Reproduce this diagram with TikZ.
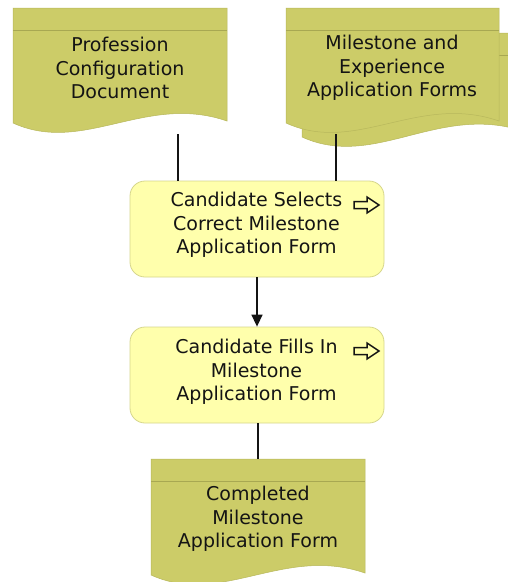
\documentclass[tikz,border=0pt]{standalone}
\usepackage{fontspec}
\setmainfont{DejaVu Sans}
\usetikzlibrary{arrows.meta,calc}

\definecolor{docfill}{RGB}{204,204,104}
\definecolor{docedge}{RGB}{184,184,92}
\definecolor{docrule}{RGB}{168,168,82}
\definecolor{procfill}{RGB}{255,255,172}
\definecolor{procedge}{RGB}{214,214,140}
\definecolor{ink}{RGB}{20,20,20}

% document symbol with a wavy lower edge:
% #1 left x, #2 top y, #3 right x, #4 bottom-left y, #5 bottom-right y, #6 divider y
\newcommand{\wavedoc}[6]{%
  \pgfmathsetmacro\wdw{#3-#1}%
  \pgfmathsetmacro\cxa{#1+0.33*\wdw}%
  \pgfmathsetmacro\cxb{#1+0.62*\wdw}%
  \pgfmathsetmacro\cya{#4+32}%
  \pgfmathsetmacro\cyb{#4-30}%
  \filldraw[fill=docfill,draw=docedge,line width=0.5pt]
    (#1,#2) -- (#3,#2) -- (#3,#5)
    .. controls (\cxb,\cyb) and (\cxa,\cya) .. (#1,#4) -- cycle;
  \draw[docrule,line width=0.6pt] (#1,#6) -- (#3,#6);
}

% hollow "continues" arrow inside a process box, centred at (#1,#2)
\newcommand{\flowmark}[2]{%
  \draw[ink,line width=1.5pt,line join=miter,shift={(#1,#2)}]
    (-13,-3.5) -- (0,-3.5) -- (0,-8) -- (12,0) -- (0,8) -- (0,3.5) -- (-13,3.5) -- cycle;
}

\tikzset{
  proc/.style={draw=procedge,fill=procfill,line width=0.8pt,rounded corners=15pt,
    minimum width=254pt,minimum height=96pt,inner sep=0pt},
  lbl/.style={align=center,inner sep=0pt,text=ink,
    font=\fontsize{19pt}{23.5pt}\selectfont},
  conn/.style={draw=ink,line width=1.5pt},
  flow/.style={conn,-{Triangle[length=12pt,width=11pt]}}
}

\begin{document}
\begin{tikzpicture}[x=1pt,y=-1pt]
  \useasboundingbox (0,0) rectangle (508,582);
  \clip (0,0) rectangle (508,582);
  \fill[white] (0,0) rectangle (508,582);

  % input documents
  \wavedoc{13}{8}{227}{123}{121}{30}
  \wavedoc{302}{33}{516}{137}{129}{55}
  \wavedoc{286}{8}{499}{123}{121}{30}

  \node[lbl] (d1) at (120,68) {Profession\\Configuration\\Document};
  \node[lbl] (d2) at (392,68) {Milestone and\\Experience\\Application Forms};

  % process steps
  \node[proc] (b1) at (257,229) {};
  \node[lbl] (b1t) at (256.5,225) {Candidate Selects\\Correct Milestone\\Application Form};
  \flowmark{367}{205}

  \node[proc] (b2) at (257,375) {};
  \node[lbl] (b2t) at (256.5,372) {Candidate Fills In\\Milestone\\Application Form};
  \flowmark{367}{351}

  % output document
  \wavedoc{151}{459}{365}{575}{573}{481}
  \node[lbl] (d3) at (258,519) {Completed\\Milestone\\Application Form};

  % connectors
  \coordinate (d1b) at (178,134);
  \coordinate (d2b) at (336,134);
  \coordinate (d3t) at (258,459);
  \draw[conn] (d1b) -- (d1b |- b1.north);
  \draw[conn] (d2b) -- (d2b |- b1.north);
  \draw[flow] (b1.south) -- (b2.north);
  \draw[conn] (d3t |- b2.south) -- (d3t);
\end{tikzpicture}
\end{document}
